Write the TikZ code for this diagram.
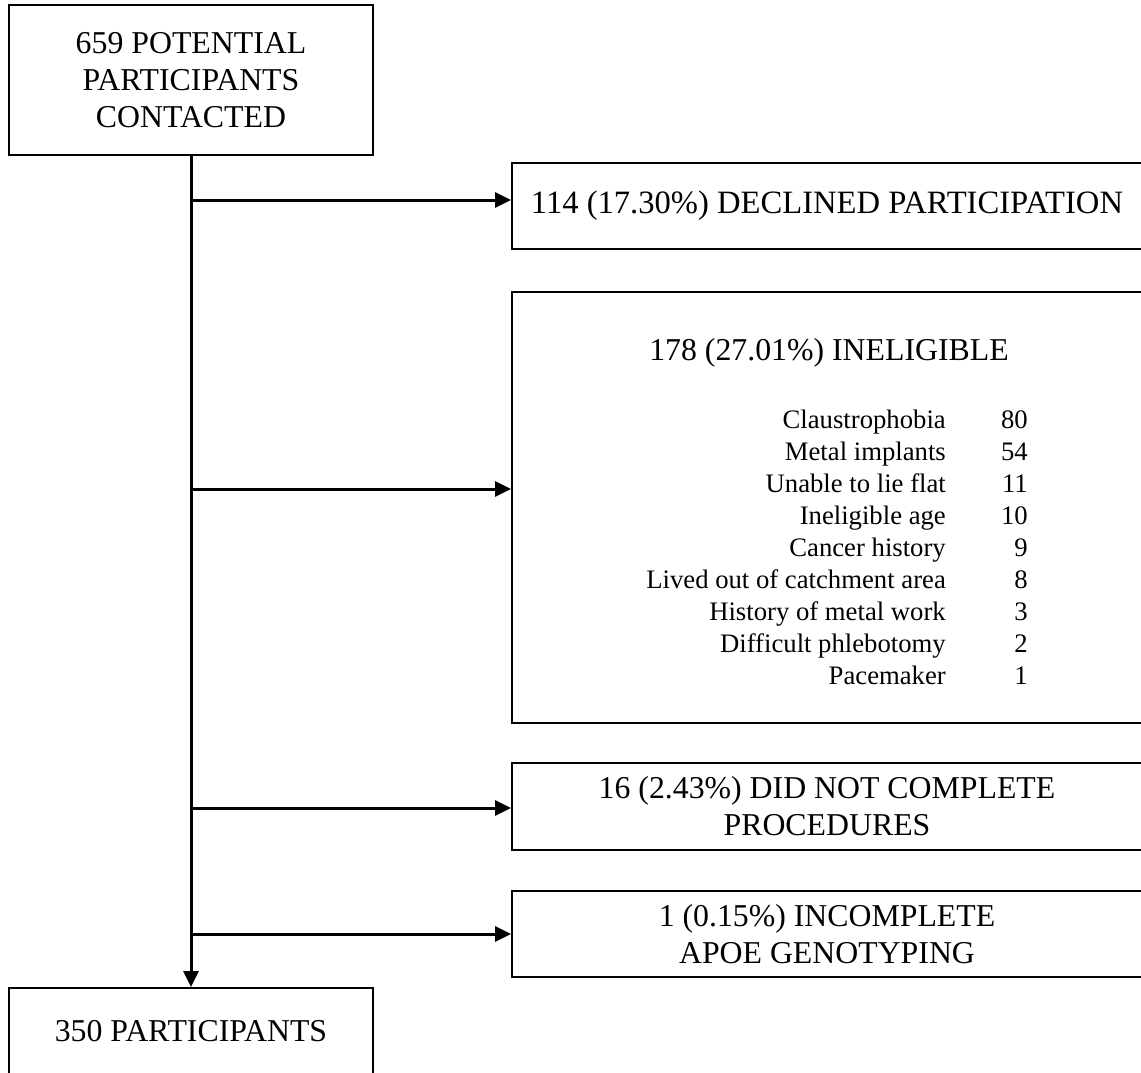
\documentclass[tikz,border=0pt]{standalone}
\usepackage{fontspec}
\setmainfont{Liberation Serif}
\usetikzlibrary{arrows.meta}
\tikzset{
  box/.style={draw, line width=2pt, rectangle, inner sep=0pt, align=center,
    font=\fontsize{31.8}{37}\selectfont},
  conn/.style={line width=3pt, -{Triangle[length=16pt,width=15pt]}},
  item/.style={anchor=base east, inner sep=0pt, font=\fontsize{26.7}{32}\selectfont},
  titletext/.style={anchor=base, inner sep=0pt, font=\fontsize{31.8}{37}\selectfont},
}
\begin{document}
\begin{tikzpicture}[x=1pt, y=-1pt]
\useasboundingbox (0,0) rectangle (1141,1073);
% boxes
\node[box, minimum width=364pt, minimum height=150pt] (top) at (191,80)
  {659 POTENTIAL\\PARTICIPANTS\\CONTACTED};
\node[box, minimum width=364pt, minimum height=87pt] (bot) at (191,1031.5)
  {350 PARTICIPANTS};
\node[box, minimum width=630pt, minimum height=86pt,
  font=\fontsize{32.6}{37}\selectfont] (b1) at (827,206)
  {114 (17.30\%) DECLINED PARTICIPATION};
\node[box, minimum width=630pt, minimum height=431pt] (b2) at (827,507.5) {};
\node[box, minimum width=630pt, minimum height=87pt] (b3) at (827,806.5)
  {16 (2.43\%) DID NOT COMPLETE\\PROCEDURES};
\node[box, minimum width=630pt, minimum height=86pt] (b4) at (827,934)
  {1 (0.15\%) INCOMPLETE\\APOE GENOTYPING};
% ineligible box content
\node[titletext] (t2) at (829,360) {178 (27.01\%) INELIGIBLE};
\foreach \lab/\num [count=\i from 0] in {Claustrophobia/80, Metal implants/54,
  Unable to lie flat/11, Ineligible age/10, Cancer history/9,
  Lived out of catchment area/8, History of metal work/3,
  Difficult phlebotomy/2, Pacemaker/1} {
  \node[item] (l\i) at (946,{428+32*\i}) {\lab};
  \node[item] (n\i) at (1028,{428+32*\i}) {\num};
}
% trunk and branches
\draw[conn] (top.south) -- (bot.north);
\coordinate (s1) at (191,200);
\coordinate (s2) at (191,489);
\coordinate (s3) at (191,808);
\coordinate (s4) at (191,934);
\draw[conn] (s1) -- (s1 -| b1.west);
\draw[conn] (s2) -- (s2 -| b2.west);
\draw[conn] (s3) -- (s3 -| b3.west);
\draw[conn] (s4) -- (s4 -| b4.west);
\end{tikzpicture}
\end{document}
